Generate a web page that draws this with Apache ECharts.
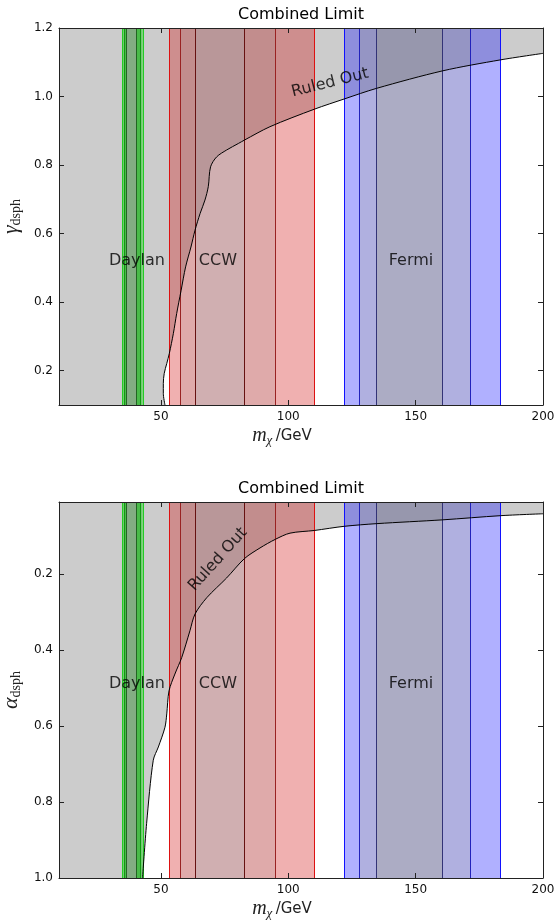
<!DOCTYPE html>
<html>
<head>
<meta charset="utf-8">
<script src="https://cdn.jsdelivr.net/npm/echarts@6/dist/echarts.min.js"></script>
<style>
  html, body { margin: 0; padding: 0; background: #fff; }
  #main { width: 555px; height: 921px; }
</style>
</head>
<body>
<div id="main"></div>
<script>
// limit curve, top panel (m_chi vs gamma_dsph)
const massTop  = [51.6, 50.95, 50.95, 51.3, 52.3, 53.3, 54.9, 56.2, 57.9, 59.7, 61.8, 63.4, 65.4, 67.3, 68.6, 69.5, 71.9, 75.8, 80.4, 82.8, 92.8, 110.2, 122.0, 134.7, 160.6, 183.3, 200];
const gammaTop = [0.10, 0.134, 0.163, 0.192, 0.221, 0.25, 0.309, 0.367, 0.433, 0.503, 0.561, 0.61, 0.659, 0.698, 0.737, 0.795, 0.824, 0.844, 0.863, 0.873, 0.912, 0.963, 0.993, 1.024, 1.075, 1.107, 1.126];

// limit curve, bottom panel (m_chi vs alpha_dsph)
const massBot  = [42.8, 44.4, 47.0, 49.0, 51.6, 52.3, 53.2, 55.5, 58.2, 61.4, 63.4, 68.0, 75.8, 82.8, 88.9, 95.0, 100.7, 110.2, 122.0, 134.7, 160.6, 183.3, 200];
const alphaBot = [1.0, 0.856, 0.69, 0.655, 0.603, 0.568, 0.507, 0.463, 0.419, 0.349, 0.305, 0.262, 0.21, 0.159, 0.131, 0.108, 0.092, 0.085, 0.074, 0.067, 0.057, 0.046, 0.041];

// mass bands [lo, hi], outer -> inner
const greenBands = [[34.8, 42.9], [35.5, 41.8], [36.3, 40.5]];
const redBands   = [[53.2, 110.2], [57.6, 95.0], [63.4, 82.8]];
const blueBands  = [[122.0, 183.3], [127.9, 171.5], [134.7, 160.6]];

const xTicks = [50, 100, 150, 200];
const gammaTicks = [0.2, 0.4, 0.6, 0.8, 1.0, 1.2];
const alphaTicks = [0.2, 0.4, 0.6, 0.8, 1.0];

const greenFill = ['rgba(0,210,0,0.45)', 'rgba(0,150,0,0.35)', 'rgba(190,160,190,0.5)'];
const greenEdge = ['#22cc22', '#119911', '#226622'];
const redFill   = ['rgba(210,15,15,0.33)', 'rgba(125,140,140,0.15)', 'rgba(150,195,205,0.2)'];
const redEdge   = ['#dd1111', '#992222', '#661111'];
const blueFill  = ['rgba(15,15,255,0.33)', 'rgba(178,178,100,0.2)', 'rgba(160,160,85,0.2)'];
const blueEdge  = ['#1111ff', '#2222bb', '#333377'];

const font = 'DejaVu Sans';
const serif = 'Liberation Serif';

function zip(xs, ys) { return xs.map((x, i) => [x, ys[i]]); }

function bands(xi, yi, list, fills, edges) {
    return list.map((b, k) => ({
        type: 'line', xAxisIndex: xi, yAxisIndex: yi, data: [],
        markArea: {
            silent: true, z: 3,
            itemStyle: { color: fills[k], borderWidth: 0 },
            data: [[{ xAxis: b[0] }, { xAxis: b[1] }]]
        },
        markLine: {
            silent: true, z: 6, symbol: 'none', label: { show: false },
            lineStyle: { color: edges[k], width: 1, type: 'solid' },
            data: [{ xAxis: b[0] }, { xAxis: b[1] }]
        }
    }));
}

function xAx(gi, pos, labels) {
    return {
        type: 'value', gridIndex: gi, position: pos, min: 10, max: 200, z: 20,
        axisLine: { show: true, onZero: false, lineStyle: { color: '#222', width: 1 } },
        axisTick: { show: true, inside: true, length: 5, customValues: xTicks, lineStyle: { color: '#222' } },
        axisLabel: { show: labels, customValues: xTicks, margin: 6, fontFamily: font, fontSize: 12, color: '#111' },
        splitLine: { show: false },
        name: labels ? '{m|m}{s|χ} {t|/GeV}' : '',
        nameLocation: 'middle', nameGap: 20,
        nameTextStyle: {
            padding: [0, 38, 0, 0],
            rich: {
                m: { fontFamily: serif, fontStyle: 'italic', fontSize: 20, lineHeight: 22 },
                s: { fontFamily: serif, fontStyle: 'italic', fontSize: 13, lineHeight: 13, verticalAlign: 'bottom' },
                t: { fontFamily: font, fontSize: 15, lineHeight: 22 }
            }
        }
    };
}

function yAx(gi, pos, labels, min, max, ticks, inverse, sym) {
    return {
        type: 'value', gridIndex: gi, position: pos, min: min, max: max, inverse: inverse, z: 20,
        axisLine: { show: true, onZero: false, lineStyle: { color: '#222', width: 1 } },
        axisTick: { show: true, inside: true, length: 5, customValues: ticks, lineStyle: { color: '#222' } },
        axisLabel: { show: labels, customValues: ticks, margin: 6, fontFamily: font, fontSize: 12, color: '#111',
                     formatter: v => v.toFixed(1) },
        splitLine: { show: false },
        name: labels ? '{g|' + sym + '}{s|dsph}' : '',
        nameLocation: 'middle', nameRotate: 90, nameGap: 34,
        nameTextStyle: {
            rich: {
                g: { fontFamily: serif, fontStyle: 'italic', fontSize: 22, lineHeight: 24 },
                s: { fontFamily: serif, fontSize: 14, lineHeight: 14, verticalAlign: 'bottom' }
            }
        }
    };
}

function labels(xi, yi, items) {
    return {
        type: 'scatter', xAxisIndex: xi, yAxisIndex: yi, symbolSize: 0, z: 20, silent: true,
        data: items.map(d => ({
            value: [d[0], d[1]],
            label: { show: true, position: 'inside', formatter: d[2], rotate: d[3] || 0,
                     fontFamily: font, fontSize: 16, color: '#000' }
        }))
    };
}

function panel(xi, yi, curve, origin, notes) {
    return [
        { type: 'line', xAxisIndex: xi, yAxisIndex: yi, data: curve, showSymbol: false, z: 2, smooth: 0.3,
          lineStyle: { width: 0 }, areaStyle: { color: '#fff', opacity: 1, origin: origin } },
        ...bands(xi, yi, greenBands, greenFill, greenEdge),
        ...bands(xi, yi, redBands, redFill, redEdge),
        ...bands(xi, yi, blueBands, blueFill, blueEdge),
        { type: 'line', xAxisIndex: xi, yAxisIndex: yi, data: curve, showSymbol: false, z: 10, smooth: 0.3,
          lineStyle: { color: '#000', width: 1 } },
        labels(xi, yi, notes)
    ];
}

const chart = echarts.init(document.getElementById('main'), null, { renderer: 'canvas' });
chart.setOption({
    animation: false,
    backgroundColor: '#fff',
    title: [
        { text: 'Combined Limit', left: 301, top: 7, padding: 0, textAlign: 'center',
          textStyle: { fontFamily: font, fontSize: 16, fontWeight: 'normal', color: '#000' } },
        { text: 'Combined Limit', left: 301, top: 481, padding: 0, textAlign: 'center',
          textStyle: { fontFamily: font, fontSize: 16, fontWeight: 'normal', color: '#000' } }
    ],
    grid: [
        { left: 59, top: 28, width: 484, height: 377, show: true, backgroundColor: '#cccccc', borderWidth: 0,
          outerBoundsMode: 'none', containLabel: false },
        { left: 59, top: 502, width: 484, height: 376, show: true, backgroundColor: '#cccccc', borderWidth: 0,
          outerBoundsMode: 'none', containLabel: false }
    ],
    xAxis: [xAx(0, 'bottom', true), xAx(0, 'top', false), xAx(1, 'bottom', true), xAx(1, 'top', false)],
    yAxis: [
        yAx(0, 'left', true, 0.1, 1.2, gammaTicks, false, 'γ'),
        yAx(0, 'right', false, 0.1, 1.2, gammaTicks, false, 'γ'),
        yAx(1, 'left', true, 0.01, 1.0, alphaTicks, true, 'α'),
        yAx(1, 'right', false, 0.01, 1.0, alphaTicks, true, 'α')
    ],
    series: [
        ...panel(0, 0, zip(massTop, gammaTop), 'start', [
            [40.6, 0.52, 'Daylan'], [72.4, 0.52, 'CCW'], [148.2, 0.52, 'Fermi'], [116.4, 1.04, 'Ruled Out', 14]
        ]),
        ...panel(2, 2, zip(massBot, alphaBot), 'end', [
            [40.6, 0.49, 'Daylan'], [72.4, 0.49, 'CCW'], [148.2, 0.49, 'Fermi'], [72.4, 0.161, 'Ruled Out', 48]
        ])
    ]
});
</script>
</body>
</html>
